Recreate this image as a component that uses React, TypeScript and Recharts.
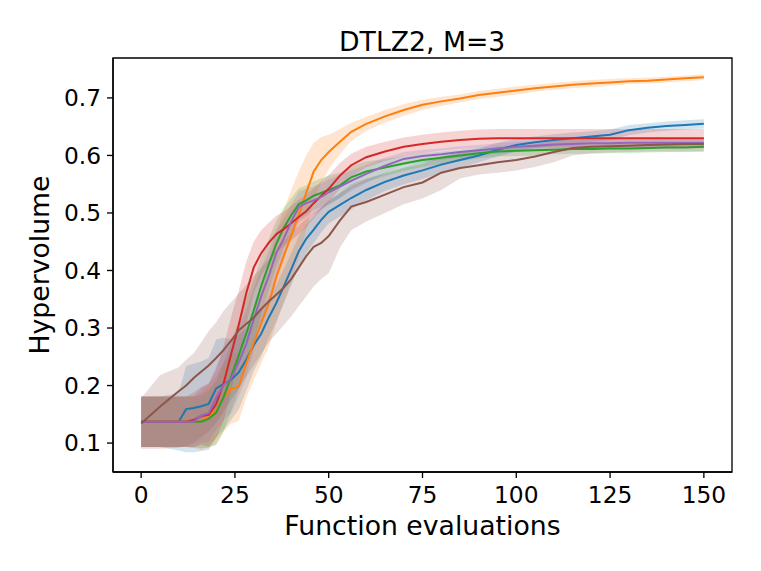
import { ComposedChart, Area, Line, XAxis, YAxis, ReferenceArea } from 'recharts'

const FONT = '"DejaVu Sans", sans-serif'

const evals = [
  0, 5, 10, 12, 14, 16, 18, 20, 22, 24, 26, 28, 30, 32, 34, 36, 38, 40, 42, 44, 46, 48, 50, 53, 56, 60,
  65, 70, 75, 80, 85, 90, 95, 100, 105, 110, 115, 120, 125, 130, 135, 140, 145, 150,
]

// mean hypervolume per method (tab10 colour order)
const blueMean = [
  0.137, 0.137, 0.137, 0.159, 0.161, 0.164, 0.168, 0.195, 0.203, 0.21, 0.223, 0.245, 0.27, 0.29, 0.318, 0.343,
  0.372, 0.402, 0.433, 0.455, 0.471, 0.488, 0.502, 0.514, 0.526, 0.54, 0.554, 0.565, 0.574, 0.584, 0.592, 0.6,
  0.61, 0.618, 0.623, 0.627, 0.63, 0.633, 0.636, 0.644, 0.648, 0.651, 0.653, 0.655,
]
const orangeMean = [
  0.137, 0.137, 0.137, 0.137, 0.137, 0.138, 0.148, 0.156, 0.18, 0.194, 0.198, 0.238, 0.274, 0.308, 0.342, 0.388,
  0.425, 0.46, 0.497, 0.535, 0.572, 0.592, 0.606, 0.624, 0.641, 0.655, 0.668, 0.679, 0.688, 0.694, 0.699, 0.705,
  0.709, 0.713, 0.717, 0.72, 0.723, 0.725, 0.727, 0.729, 0.73, 0.732, 0.734, 0.736,
]
const greenMean = [
  0.137, 0.137, 0.137, 0.137, 0.137, 0.137, 0.142, 0.153, 0.18, 0.216, 0.252, 0.29, 0.33, 0.373, 0.41, 0.446,
  0.474, 0.496, 0.515, 0.522, 0.53, 0.535, 0.54, 0.548, 0.562, 0.572, 0.579, 0.586, 0.592, 0.596, 0.6, 0.604,
  0.607, 0.608, 0.609, 0.61, 0.611, 0.611, 0.612, 0.612, 0.613, 0.614, 0.614, 0.615,
]
const redMean = [
  0.137, 0.137, 0.137, 0.137, 0.14, 0.147, 0.149, 0.168, 0.204, 0.255, 0.305, 0.36, 0.405, 0.43, 0.448, 0.463,
  0.472, 0.482, 0.493, 0.503, 0.517, 0.53, 0.542, 0.565, 0.583, 0.597, 0.607, 0.615, 0.62, 0.624, 0.627, 0.629,
  0.63, 0.63, 0.63, 0.63, 0.63, 0.63, 0.63, 0.63, 0.63, 0.63, 0.63, 0.63,
]
const purpleMean = [
  0.137, 0.137, 0.137, 0.137, 0.137, 0.148, 0.152, 0.178, 0.201, 0.212, 0.24, 0.272, 0.315, 0.355, 0.39, 0.43,
  0.455, 0.485, 0.51, 0.517, 0.522, 0.528, 0.536, 0.546, 0.556, 0.568, 0.582, 0.594, 0.599, 0.602, 0.606, 0.609,
  0.612, 0.615, 0.617, 0.619, 0.62, 0.621, 0.621, 0.622, 0.622, 0.622, 0.622, 0.622,
]
const brownMean = [
  0.134, 0.163, 0.19, 0.2, 0.213, 0.224, 0.235, 0.248, 0.262, 0.278, 0.296, 0.307, 0.318, 0.333, 0.346, 0.358,
  0.37, 0.385, 0.405, 0.425, 0.441, 0.448, 0.46, 0.487, 0.511, 0.519, 0.532, 0.545, 0.553, 0.57, 0.578, 0.583,
  0.588, 0.592, 0.598, 0.606, 0.613, 0.615, 0.616, 0.617, 0.618, 0.619, 0.62, 0.62,
]

// half-width of the shaded band around each mean
const blueSpread = [
  0.044, 0.044, 0.05, 0.075, 0.077, 0.078, 0.08, 0.085, 0.08, 0.07, 0.065, 0.055, 0.045, 0.04, 0.035, 0.032,
  0.03, 0.028, 0.027, 0.025, 0.023, 0.022, 0.02, 0.02, 0.02, 0.018, 0.016, 0.015, 0.015, 0.014, 0.013, 0.012,
  0.012, 0.011, 0.01, 0.01, 0.01, 0.009, 0.009, 0.009, 0.008, 0.008, 0.008, 0.008,
]
const orangeSpread = [
  0.044, 0.044, 0.044, 0.044, 0.045, 0.05, 0.055, 0.06, 0.06, 0.06, 0.06, 0.06, 0.065, 0.07, 0.075, 0.08,
  0.08, 0.08, 0.075, 0.065, 0.05, 0.04, 0.03, 0.022, 0.016, 0.012, 0.011, 0.01, 0.009, 0.008, 0.007, 0.007,
  0.007, 0.007, 0.006, 0.006, 0.006, 0.006, 0.006, 0.005, 0.005, 0.005, 0.005, 0.005,
]
const greenSpread = [
  0.044, 0.044, 0.044, 0.044, 0.044, 0.046, 0.05, 0.055, 0.06, 0.06, 0.06, 0.06, 0.055, 0.05, 0.045, 0.04,
  0.035, 0.03, 0.028, 0.026, 0.025, 0.025, 0.025, 0.022, 0.02, 0.018, 0.015, 0.013, 0.012, 0.011, 0.01, 0.009,
  0.009, 0.009, 0.009, 0.008, 0.008, 0.008, 0.008, 0.008, 0.008, 0.008, 0.008, 0.008,
]
const redSpread = [
  0.044, 0.044, 0.044, 0.044, 0.048, 0.05, 0.055, 0.06, 0.065, 0.065, 0.06, 0.055, 0.045, 0.04, 0.035, 0.032,
  0.03, 0.03, 0.03, 0.028, 0.026, 0.025, 0.024, 0.022, 0.02, 0.018, 0.017, 0.016, 0.016, 0.016, 0.016, 0.016,
  0.016, 0.016, 0.016, 0.016, 0.016, 0.016, 0.016, 0.016, 0.016, 0.016, 0.016, 0.016,
]
const purpleSpread = [
  0.044, 0.044, 0.044, 0.044, 0.044, 0.048, 0.05, 0.055, 0.06, 0.06, 0.06, 0.058, 0.055, 0.05, 0.045, 0.04,
  0.035, 0.03, 0.027, 0.025, 0.024, 0.023, 0.022, 0.02, 0.018, 0.016, 0.014, 0.012, 0.011, 0.01, 0.01, 0.009,
  0.009, 0.009, 0.008, 0.008, 0.008, 0.008, 0.008, 0.008, 0.008, 0.008, 0.008, 0.008,
]
// the brown band is skewed, so its edges are kept directly
const brownLow = [
  0.09, 0.09, 0.092, 0.095, 0.1, 0.11, 0.12, 0.135, 0.155, 0.175, 0.195, 0.215, 0.235, 0.255, 0.275, 0.29,
  0.305, 0.32, 0.338, 0.355, 0.372, 0.385, 0.395, 0.44, 0.47, 0.485, 0.5, 0.515, 0.525, 0.54, 0.56, 0.567,
  0.57, 0.574, 0.58, 0.588, 0.6, 0.604, 0.605, 0.606, 0.607, 0.607, 0.607, 0.607,
]
const brownHigh = [
  0.178, 0.218, 0.232, 0.245, 0.256, 0.275, 0.295, 0.31, 0.33, 0.345, 0.36, 0.375, 0.39, 0.405, 0.42, 0.435,
  0.45, 0.465, 0.478, 0.49, 0.5, 0.51, 0.52, 0.535, 0.55, 0.56, 0.568, 0.578, 0.585, 0.598, 0.605, 0.61,
  0.614, 0.615, 0.62, 0.625, 0.628, 0.628, 0.628, 0.628, 0.628, 0.63, 0.63, 0.63,
]

const xTicks = [0, 25, 50, 75, 100, 125, 150]
const yTicks = [0.1, 0.2, 0.3, 0.4, 0.5, 0.6, 0.7]

const series = [
  { key: 'blue', color: '#1f77b4', mean: blueMean, lo: blueMean.map((m, i) => m - blueSpread[i]), hi: blueMean.map((m, i) => m + blueSpread[i]) },
  { key: 'orange', color: '#ff7f0e', mean: orangeMean, lo: orangeMean.map((m, i) => m - orangeSpread[i]), hi: orangeMean.map((m, i) => m + orangeSpread[i]) },
  { key: 'green', color: '#2ca02c', mean: greenMean, lo: greenMean.map((m, i) => m - greenSpread[i]), hi: greenMean.map((m, i) => m + greenSpread[i]) },
  { key: 'red', color: '#d62728', mean: redMean, lo: redMean.map((m, i) => m - redSpread[i]), hi: redMean.map((m, i) => m + redSpread[i]) },
  { key: 'purple', color: '#9467bd', mean: purpleMean, lo: purpleMean.map((m, i) => m - purpleSpread[i]), hi: purpleMean.map((m, i) => m + purpleSpread[i]) },
  { key: 'brown', color: '#8c564b', mean: brownMean, lo: brownLow, hi: brownHigh },
]

const data = evals.map((x, i) => {
  const row: Record<string, number | number[]> = { x }
  series.forEach((s) => {
    row[s.key] = s.mean[i]
    row[s.key + 'Band'] = [s.lo[i], s.hi[i]]
  })
  return row
})

const X_DOMAIN: [number, number] = [-7.5, 157.5]
const Y_DOMAIN: [number, number] = [0.0497, 0.7694]
const tickStyle = { fontSize: 23.3, fill: '#000', fontFamily: FONT }

export default function App() {
  return (
    <div style={{ position: 'absolute', left: 0, top: 0, width: 761, height: 571, background: '#fff' }}>
      <ComposedChart width={761} height={571} data={data} margin={{ top: 58, right: 29, bottom: 0, left: 0 }}>
        <XAxis
          dataKey="x"
          type="number"
          domain={X_DOMAIN}
          ticks={xTicks}
          allowDataOverflow
          tick={tickStyle}
          tickSize={6}
          tickMargin={8}
          height={99}
          axisLine={{ stroke: '#000', strokeWidth: 1.33 }}
          tickLine={{ stroke: '#000', strokeWidth: 1.33 }}
          label={{
            value: 'Function evaluations',
            position: 'insideBottom',
            offset: 36,
            style: { fontSize: 26.7, fill: '#000', fontFamily: FONT },
          }}
        />
        <YAxis
          type="number"
          domain={Y_DOMAIN}
          ticks={yTicks}
          allowDataOverflow
          tickFormatter={(v: number) => v.toFixed(1)}
          tick={tickStyle}
          tickSize={6}
          tickMargin={6}
          width={113}
          axisLine={{ stroke: '#000', strokeWidth: 1.33 }}
          tickLine={{ stroke: '#000', strokeWidth: 1.33 }}
          label={{
            value: 'Hypervolume',
            angle: -90,
            position: 'insideLeft',
            offset: 40,
            style: { fontSize: 26.7, fill: '#000', fontFamily: FONT, textAnchor: 'middle' },
          }}
        />
        {series.map((s) => (
          <Area
            key={s.key + 'Band'}
            type="linear"
            dataKey={s.key + 'Band'}
            stroke="none"
            fill={s.color}
            fillOpacity={0.2}
            isAnimationActive={false}
          />
        ))}
        {series.map((s) => (
          <Line
            key={s.key}
            type="linear"
            dataKey={s.key}
            stroke={s.color}
            strokeWidth={2}
            dot={false}
            isAnimationActive={false}
          />
        ))}
        <ReferenceArea
          x1={X_DOMAIN[0]}
          x2={X_DOMAIN[1]}
          y1={Y_DOMAIN[0]}
          y2={Y_DOMAIN[1]}
          fill="none"
          stroke="#000"
          strokeWidth={1.33}
        />
      </ComposedChart>
      <svg width={761} height={60} style={{ position: 'absolute', left: 0, top: 0 }}>
        <text x={422.2} y={50.7} textAnchor="middle" fontSize={26.7} fontFamily={FONT} fill="#000">
          DTLZ2, M=3
        </text>
      </svg>
    </div>
  )
}
